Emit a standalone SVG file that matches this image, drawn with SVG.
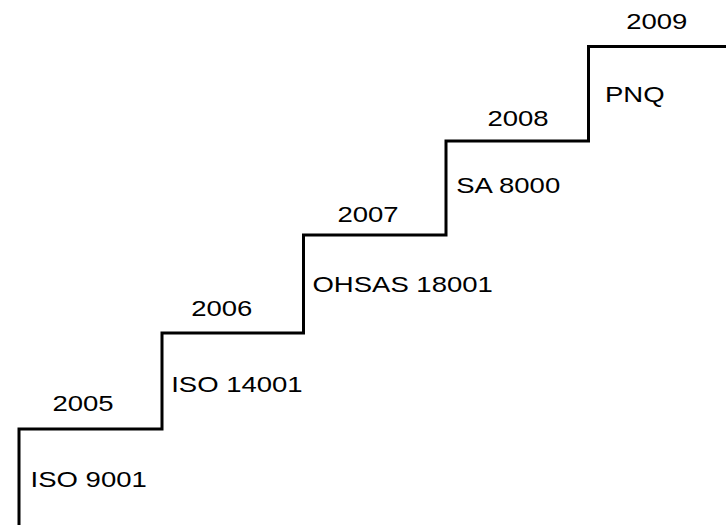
<svg xmlns="http://www.w3.org/2000/svg" width="726" height="525" viewBox="0 0 726 525">
<style>
.step{fill:none;stroke:#000;stroke-width:3;stroke-linejoin:miter;stroke-linecap:square}
text{font-family:"Liberation Sans",Arial,sans-serif;font-size:22px;fill:#000}
</style>
<rect width="726" height="525" fill="#fff"/>
<g id="connectors">
<path class="step" d="M19,526 V429 H162 V333 H303.5 V235 H446 V141 H588.5 V46.5 H727"/>
</g>
<g transform="scale(1.25,1)">
<g id="step-2005"><text x="42" y="411">2005</text><text x="24.5" y="487">ISO 9001</text></g>
<g id="step-2006"><text x="153" y="316">2006</text><text x="137" y="392">ISO 14001</text></g>
<g id="step-2007"><text x="270" y="222">2007</text><text x="250" y="292">OHSAS 18001</text></g>
<g id="step-2008"><text x="390" y="126">2008</text><text x="365" y="193">SA 8000</text></g>
<g id="step-2009"><text x="501" y="29">2009</text><text x="484" y="102">PNQ</text></g>
</g>
</svg>
